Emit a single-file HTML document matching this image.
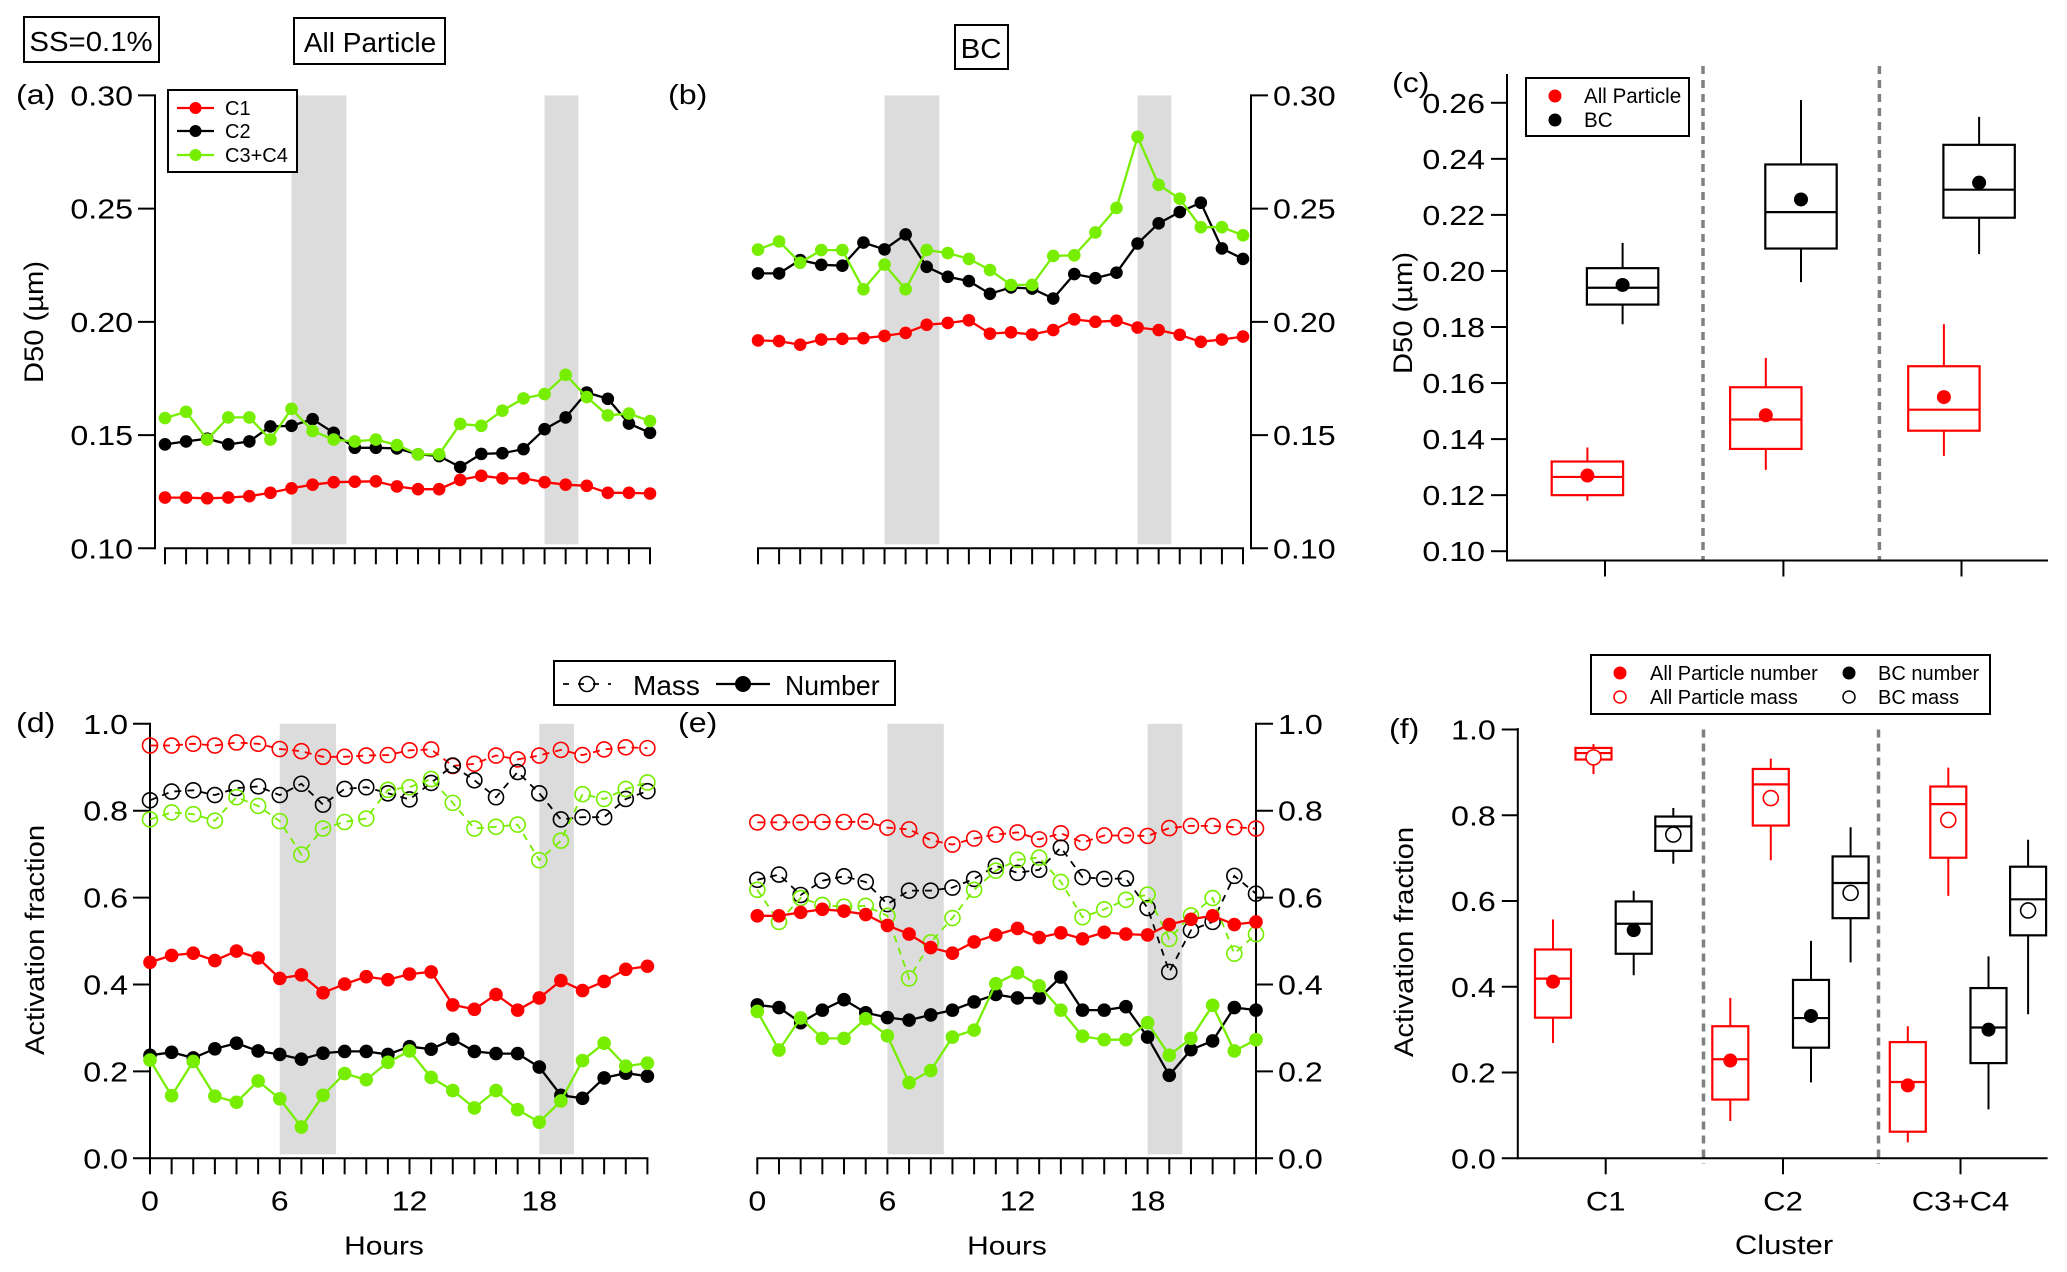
<!DOCTYPE html>
<html><head><meta charset="utf-8"><style>
html,body{margin:0;padding:0;background:#fff;}
svg{display:block;font-family:"Liberation Sans",Arial,sans-serif;}
</style></head><body>
<svg id="fig" width="2067" height="1272" viewBox="0 0 2067 1272" xmlns="http://www.w3.org/2000/svg">
<rect x="0" y="0" width="2067" height="1272" fill="#fff"/>
<g id="gT"></g>
<g id="gA"></g>
<g id="gB"></g>
<g id="gC"></g>
<g id="gD"></g>
<g id="gE"></g>
<g id="gF"></g>
</svg>
<script>
const hours = [0,1,2,3,4,5,6,7,8,9,10,11,12,13,14,15,16,17,18,19,20,21,22,23];
const d50TickLabels = ["0.10","0.15","0.20","0.25","0.30"];
const d50TickValues = [0.10,0.15,0.20,0.25,0.30];
const afTickLabels = ["0.0","0.2","0.4","0.6","0.8","1.0"];
const afTickValues = [0,0.2,0.4,0.6,0.8,1.0];
const hourLabels = [0,6,12,18];
const bands = [[6,8.6],[18,19.6]];
// Panel a (All particle D50)
const aC1 = [0.1224,0.1224,0.1221,0.1224,0.1230,0.1245,0.1265,0.1281,0.1292,0.1294,0.1296,0.1273,0.1261,0.1261,0.1302,0.1320,0.1309,0.1309,0.1292,0.1281,0.1276,0.1245,0.1245,0.1242];
const aC2 = [0.1459,0.1472,0.1484,0.1459,0.1472,0.1538,0.1541,0.1570,0.1510,0.1444,0.1444,0.1441,0.1415,0.1407,0.1359,0.1417,0.1420,0.1438,0.1526,0.1578,0.1688,0.1660,0.1551,0.1510];
const aC34 = [0.1575,0.1603,0.1480,0.1578,0.1578,0.1480,0.1616,0.1518,0.1480,0.1472,0.1480,0.1456,0.1415,0.1415,0.1549,0.1541,0.1608,0.1662,0.1681,0.1766,0.1668,0.1587,0.1595,0.1562];
// Panel b (BC D50)
const bC1 = [0.1918,0.1915,0.1899,0.1922,0.1925,0.1928,0.1938,0.1951,0.1987,0.1995,0.2007,0.1948,0.1954,0.1944,0.1964,0.2011,0.2000,0.2005,0.1975,0.1964,0.1943,0.1912,0.1922,0.1935];
const bC2 = [0.2214,0.2214,0.2273,0.2252,0.2248,0.2350,0.2320,0.2386,0.2243,0.2199,0.2180,0.2124,0.2152,0.2147,0.2103,0.2211,0.2193,0.2217,0.2346,0.2435,0.2485,0.2526,0.2324,0.2278];
const bC34 = [0.2319,0.2355,0.2261,0.2317,0.2317,0.2144,0.2253,0.2144,0.2317,0.2304,0.2278,0.2229,0.2163,0.2163,0.2291,0.2294,0.2395,0.2503,0.2817,0.2605,0.2544,0.2418,0.2418,0.2382];
// Panel d (All particle activation fraction)
const dC1Mass = [0.950,0.950,0.954,0.950,0.957,0.954,0.942,0.937,0.924,0.924,0.927,0.928,0.939,0.941,0.903,0.908,0.927,0.918,0.927,0.940,0.928,0.941,0.946,0.944];
const dC2Mass = [0.824,0.844,0.847,0.836,0.852,0.856,0.836,0.862,0.814,0.850,0.854,0.840,0.826,0.864,0.904,0.870,0.831,0.889,0.840,0.780,0.785,0.785,0.827,0.845];
const dC34Mass = [0.780,0.796,0.792,0.777,0.831,0.811,0.776,0.699,0.759,0.774,0.782,0.848,0.854,0.873,0.818,0.759,0.763,0.768,0.686,0.731,0.838,0.827,0.850,0.865];
const dC1Num = [0.451,0.467,0.472,0.455,0.477,0.461,0.414,0.422,0.381,0.401,0.418,0.411,0.424,0.429,0.353,0.343,0.377,0.341,0.369,0.409,0.386,0.407,0.435,0.442];
const dC2Num = [0.237,0.244,0.231,0.252,0.265,0.247,0.239,0.228,0.242,0.246,0.246,0.239,0.257,0.251,0.274,0.246,0.241,0.241,0.210,0.145,0.138,0.185,0.196,0.189];
const dC34Num = [0.226,0.144,0.223,0.143,0.129,0.178,0.137,0.072,0.145,0.195,0.181,0.221,0.247,0.186,0.156,0.116,0.156,0.112,0.083,0.132,0.225,0.265,0.212,0.219];
// Panel e (BC activation fraction)
const eC1Mass = [0.773,0.773,0.773,0.774,0.774,0.775,0.761,0.757,0.732,0.722,0.736,0.745,0.750,0.734,0.748,0.727,0.743,0.743,0.742,0.760,0.765,0.765,0.762,0.759];
const eC2Mass = [0.641,0.653,0.606,0.639,0.649,0.636,0.585,0.616,0.616,0.623,0.643,0.673,0.657,0.664,0.715,0.647,0.643,0.644,0.576,0.429,0.525,0.544,0.650,0.609];
const eC34Mass = [0.618,0.544,0.599,0.583,0.579,0.581,0.558,0.414,0.497,0.553,0.618,0.662,0.687,0.692,0.636,0.555,0.573,0.595,0.607,0.505,0.559,0.599,0.471,0.516];
const eC1Num = [0.558,0.558,0.566,0.573,0.569,0.561,0.536,0.516,0.485,0.472,0.498,0.514,0.529,0.508,0.519,0.505,0.520,0.516,0.514,0.538,0.550,0.558,0.538,0.544];
const eC2Num = [0.353,0.347,0.312,0.341,0.365,0.335,0.324,0.318,0.330,0.341,0.360,0.377,0.369,0.369,0.417,0.341,0.341,0.349,0.279,0.191,0.250,0.270,0.347,0.341];
const eC34Num = [0.338,0.249,0.323,0.276,0.276,0.321,0.282,0.174,0.202,0.279,0.295,0.402,0.427,0.397,0.341,0.281,0.273,0.273,0.312,0.237,0.276,0.352,0.247,0.273];
// Panel c boxes: [whiskerLow, q1, median, q3, whiskerHigh, mean]
const clusters = ["C1","C2","C3+C4"];
const cAll = [[0.118,0.120,0.1265,0.132,0.137,0.127],[0.129,0.1365,0.147,0.1585,0.169,0.1485],[0.134,0.143,0.1505,0.166,0.181,0.155]];
const cBC = [[0.181,0.188,0.194,0.201,0.210,0.195],[0.196,0.208,0.221,0.238,0.261,0.2255],[0.206,0.219,0.229,0.245,0.255,0.2315]];
const cTickLabels = ["0.10","0.12","0.14","0.16","0.18","0.20","0.22","0.24","0.26"];
const cTickValues = [0.10,0.12,0.14,0.16,0.18,0.20,0.22,0.24,0.26];
// Panel f boxes
const fAllNum = [[0.269,0.328,0.419,0.487,0.557,0.412],[0.087,0.137,0.231,0.308,0.374,0.228],[0.037,0.062,0.178,0.271,0.308,0.170]];
const fAllMass = [[0.896,0.930,0.945,0.957,0.966,0.935],[0.695,0.776,0.872,0.908,0.932,0.840],[0.612,0.701,0.826,0.867,0.911,0.789]];
const fBCNum = [[0.427,0.477,0.547,0.599,0.624,0.532],[0.177,0.258,0.327,0.416,0.507,0.332],[0.114,0.222,0.305,0.397,0.471,0.300]];
const fBCMass = [[0.687,0.717,0.774,0.797,0.817,0.755],[0.457,0.560,0.642,0.704,0.772,0.619],[0.336,0.520,0.604,0.680,0.743,0.578]];

const NS = "http://www.w3.org/2000/svg";
const RED = "#ff0000", BLK = "#000000", GRN = "#77ee00", SHADE = "#dcdcdc";
function mk(parent, tag, attrs, name, txt){
  const el = document.createElementNS(NS, tag);
  for (const k in attrs) el.setAttribute(k, attrs[k]);
  
  
  if (txt !== undefined) el.textContent = txt;
  parent.appendChild(el);
  return el;
}
function T(parent, x, y, s, size, name, anchor, rot, sx){
  const k = sx || 1.15;
  const a = {x: 0, y: 0, 'font-size': size, 'text-anchor': anchor || 'start'};
  a.transform = rot ? 'translate(' + x + ' ' + y + ') rotate(-90) scale(1.08 1)' : 'translate(' + x + ' ' + y + ') scale(' + k + ' 1)';
  return mk(parent, 'text', a, name, s);
}
function linScale(d0, d1, r0, r1){ return v => r0 + (v - d0) / (d1 - d0) * (r1 - r0); }

function linePanel(g, cfg){
  const X = linScale(0, 23, cfg.x0, cfg.x1);
  const Y = linScale(cfg.vmin, cfg.vmax, cfg.yb, cfg.yt);
  bands.forEach((b, i) => {
    mk(g, 'rect', {x: X(b[0]), y: cfg.yt, width: X(b[1]) - X(b[0]), height: cfg.yb - 4 - cfg.yt, fill: SHADE}, 'shade-band-' + i);
  });
  mk(g, 'line', {x1: X(0) - 1, y1: cfg.yb, x2: X(23) + 1, y2: cfg.yb, stroke: '#000', 'stroke-width': 2}, 'x-axis');
  hours.forEach(h => {
    mk(g, 'line', {x1: X(h), y1: cfg.yb, x2: X(h), y2: cfg.yb + 16, stroke: '#000', 'stroke-width': 2}, 'x-tick');
  });
  if (cfg.hourLabels) {
    hourLabels.forEach(h => T(g, X(h), cfg.yb + 52, String(h), 28, 'x-tick-label', 'middle'));
    T(g, cfg.hoursX, cfg.yb + 96, 'Hours', 26, 'x-axis-title', 'middle');
  }
  const ax = cfg.axisX, dir = cfg.right ? 1 : -1;
  mk(g, 'line', {x1: ax, y1: cfg.yt - 1, x2: ax, y2: cfg.yb + 1, stroke: '#000', 'stroke-width': 2}, 'y-axis');
  cfg.tickValues.forEach((v, i) => {
    mk(g, 'line', {x1: ax, y1: Y(v), x2: ax + dir * 17, y2: Y(v), stroke: '#000', 'stroke-width': 2}, 'y-tick');
    T(g, ax + dir * 22, Y(v) + 10, cfg.tickLabels[i], 28, 'y-tick-label', cfg.right ? 'start' : 'end');
  });
  cfg.series.forEach(s => {
    const pts = s.data.map((v, i) => X(hours[i]).toFixed(1) + ',' + Y(v).toFixed(1)).join(' ');
    const la = {points: pts, fill: 'none', stroke: s.color, 'stroke-width': s.open ? 1.8 : 2.3};
    if (s.open) la['stroke-dasharray'] = '7,6';
    mk(g, 'polyline', la, s.name + '-line');
    s.data.forEach((v, i) => {
      if (s.open) mk(g, 'circle', {cx: X(hours[i]), cy: Y(v), r: 7.5, fill: 'none', stroke: s.color, 'stroke-width': 1.6}, s.name + '-point');
      else mk(g, 'circle', {cx: X(hours[i]), cy: Y(v), r: cfg.r, fill: s.color}, s.name + '-point');
    });
  });
}

function boxPanel(g, cfg){
  const Y = linScale(cfg.vmin, cfg.vmax, cfg.yb0, cfg.yt0);
  cfg.seps.forEach(sx => mk(g, 'line', {x1: sx, y1: cfg.sepTop, x2: sx, y2: cfg.sepBot, stroke: '#808080', 'stroke-width': 3.5, 'stroke-dasharray': '8,6'}, 'cluster-separator'));
  mk(g, 'line', {x1: cfg.axisX, y1: cfg.axTop, x2: cfg.axisX, y2: cfg.xAxisY + 1, stroke: '#000', 'stroke-width': 2}, 'y-axis');
  mk(g, 'line', {x1: cfg.axisX - 1, y1: cfg.xAxisY, x2: cfg.xEnd, y2: cfg.xAxisY, stroke: '#000', 'stroke-width': 2}, 'x-axis');
  cfg.tickValues.forEach((v, i) => {
    mk(g, 'line', {x1: cfg.axisX, y1: Y(v), x2: cfg.axisX - 16, y2: Y(v), stroke: '#000', 'stroke-width': 2}, 'y-tick');
    T(g, cfg.axisX - 22, Y(v) + 10, cfg.tickLabels[i], 28, 'y-tick-label', 'end');
  });
  cfg.cats.forEach((cx, ci) => {
    mk(g, 'line', {x1: cx, y1: cfg.xAxisY, x2: cx, y2: cfg.xAxisY + 16, stroke: '#000', 'stroke-width': 2}, 'x-tick');
    if (cfg.catLabels) T(g, cx, cfg.xAxisY + 52, clusters[ci], 27, 'x-tick-label', 'middle');
    cfg.series.forEach(s => {
      const b = s.data[ci], bx = cx + s.off, hw = cfg.hw;
      mk(g, 'line', {x1: bx, y1: Y(b[0]), x2: bx, y2: Y(b[4]), stroke: s.color, 'stroke-width': 2}, s.name + '-whisker');
      mk(g, 'rect', {x: bx - hw, y: Y(b[3]), width: 2 * hw, height: Y(b[1]) - Y(b[3]), fill: '#fff', stroke: s.color, 'stroke-width': 2.2}, s.name + '-box');
      mk(g, 'line', {x1: bx - hw, y1: Y(b[2]), x2: bx + hw, y2: Y(b[2]), stroke: s.color, 'stroke-width': 2.2}, s.name + '-median');
      if (s.open) mk(g, 'circle', {cx: bx, cy: Y(b[5]), r: 7.5, fill: '#fff', stroke: s.color, 'stroke-width': 1.6}, s.name + '-mean');
      else mk(g, 'circle', {cx: bx, cy: Y(b[5]), r: 7, fill: s.color}, s.name + '-mean');
    });
  });
}

// titles
const gT = document.getElementById('gT');
mk(gT, 'rect', {x: 24, y: 17, width: 135, height: 45, fill: 'none', stroke: '#000', 'stroke-width': 2}, 'ss-label-box');
T(gT, 91, 51, 'SS=0.1%', 28, 'ss-label', 'middle', false, 1.05);
mk(gT, 'rect', {x: 294, y: 18, width: 151, height: 46, fill: 'none', stroke: '#000', 'stroke-width': 2}, 'all-particle-title-box');
T(gT, 370, 52, 'All Particle', 28, 'all-particle-title', 'middle', false, 1.0);
mk(gT, 'rect', {x: 955, y: 25, width: 53, height: 44, fill: 'none', stroke: '#000', 'stroke-width': 2}, 'bc-title-box');
T(gT, 981, 58, 'BC', 28, 'bc-title', 'middle', false, 1.05);

const gA = document.getElementById('gA');
linePanel(gA, {x0: 165, x1: 650, yt: 95.4, yb: 548.3, vmin: 0.10, vmax: 0.30, axisX: 155, right: false, r: 6.3,
  tickValues: d50TickValues, tickLabels: d50TickLabels,
  series: [{data: aC1, color: RED, name: 'c1'}, {data: aC2, color: BLK, name: 'c2'}, {data: aC34, color: GRN, name: 'c3c4'}]});
T(gA, 16, 104, '(a)', 28, 'panel-label-a');
T(gA, 43, 322, 'D50 (µm)', 27, 'y-axis-title', 'middle', true);
const lgA = mk(gA, 'g', {}, 'legend');
mk(lgA, 'rect', {x: 168, y: 90, width: 129, height: 82, fill: '#fff', stroke: '#000', 'stroke-width': 2}, 'legend-box');
[[RED, 'C1', 108], [BLK, 'C2', 131], [GRN, 'C3+C4', 155]].forEach(e => {
  mk(lgA, 'line', {x1: 177, y1: e[2], x2: 214, y2: e[2], stroke: e[0], 'stroke-width': 2.3}, 'legend-line');
  mk(lgA, 'circle', {cx: 195.5, cy: e[2], r: 6, fill: e[0]}, 'legend-marker');
  T(lgA, 225, e[2] + 7, e[1], 20, 'legend-entry', 'start', false, 1.0);
});

const gB = document.getElementById('gB');
linePanel(gB, {x0: 758, x1: 1243, yt: 95.4, yb: 548.3, vmin: 0.10, vmax: 0.30, axisX: 1251, right: true, r: 6.3,
  tickValues: d50TickValues, tickLabels: d50TickLabels,
  series: [{data: bC1, color: RED, name: 'c1'}, {data: bC2, color: BLK, name: 'c2'}, {data: bC34, color: GRN, name: 'c3c4'}]});
T(gB, 668, 104, '(b)', 28, 'panel-label-b');

const gC = document.getElementById('gC');
boxPanel(gC, {vmin: 0.10, vmax: 0.26, yb0: 551.2, yt0: 102.8, axisX: 1507, axTop: 74, xAxisY: 560.5, xEnd: 2048,
  seps: [1703, 1879.4], sepTop: 66, sepBot: 560, cats: [1605, 1783.4, 1961.5], hw: 35.7, catLabels: false,
  tickValues: cTickValues, tickLabels: cTickLabels,
  series: [{data: cAll, color: RED, off: -17.6, name: 'all-particle'}, {data: cBC, color: BLK, off: 17.6, name: 'bc'}]});
T(gC, 1392, 92, '(c)', 28, 'panel-label-c');
T(gC, 1412, 313, 'D50 (µm)', 27, 'y-axis-title', 'middle', true);
const lgC = mk(gC, 'g', {}, 'legend');
mk(lgC, 'rect', {x: 1526, y: 78, width: 163, height: 58, fill: '#fff', stroke: '#000', 'stroke-width': 2}, 'legend-box');
mk(lgC, 'circle', {cx: 1555, cy: 96, r: 6.5, fill: RED}, 'legend-marker');
T(lgC, 1584, 103, 'All Particle', 21, 'legend-entry', 'start', false, 0.98);
mk(lgC, 'circle', {cx: 1555, cy: 120, r: 6.5, fill: BLK}, 'legend-marker');
T(lgC, 1584, 127, 'BC', 21, 'legend-entry', 'start', false, 0.98);

const gD = document.getElementById('gD');
linePanel(gD, {x0: 150, x1: 647.4, yt: 723.8, yb: 1158.3, vmin: 0, vmax: 1, axisX: 150, right: false, r: 6.8, hourLabels: true, hoursX: 384,
  tickValues: afTickValues, tickLabels: afTickLabels,
  series: [{data: dC1Mass, color: RED, open: true, name: 'c1-mass'}, {data: dC2Mass, color: BLK, open: true, name: 'c2-mass'}, {data: dC34Mass, color: GRN, open: true, name: 'c3c4-mass'},
           {data: dC1Num, color: RED, name: 'c1-number'}, {data: dC2Num, color: BLK, name: 'c2-number'}, {data: dC34Num, color: GRN, name: 'c3c4-number'}]});
T(gD, 16, 732, '(d)', 28, 'panel-label-d');
T(gD, 44, 940, 'Activation fraction', 27, 'y-axis-title', 'middle', true);

const gE = document.getElementById('gE');
linePanel(gE, {x0: 757.3, x1: 1256, yt: 723.8, yb: 1158.3, vmin: 0, vmax: 1, axisX: 1256, right: true, r: 6.8, hourLabels: true, hoursX: 1007,
  tickValues: afTickValues, tickLabels: afTickLabels,
  series: [{data: eC1Mass, color: RED, open: true, name: 'c1-mass'}, {data: eC2Mass, color: BLK, open: true, name: 'c2-mass'}, {data: eC34Mass, color: GRN, open: true, name: 'c3c4-mass'},
           {data: eC1Num, color: RED, name: 'c1-number'}, {data: eC2Num, color: BLK, name: 'c2-number'}, {data: eC34Num, color: GRN, name: 'c3c4-number'}]});
T(gE, 678, 732, '(e)', 28, 'panel-label-e');
const lgM = mk(gE, 'g', {}, 'mass-number-legend');
mk(lgM, 'rect', {x: 554, y: 661, width: 341, height: 44, fill: '#fff', stroke: '#000', 'stroke-width': 2}, 'legend-box');
mk(lgM, 'line', {x1: 563, y1: 684, x2: 611, y2: 684, stroke: '#000', 'stroke-width': 1.8, 'stroke-dasharray': '6,9'}, 'legend-line');
mk(lgM, 'circle', {cx: 587, cy: 684, r: 7.5, fill: 'none', stroke: '#000', 'stroke-width': 1.6}, 'legend-marker');
T(lgM, 633, 695, 'Mass', 28, 'legend-entry', 'start', false, 1.0);
mk(lgM, 'line', {x1: 716, y1: 684, x2: 770, y2: 684, stroke: '#000', 'stroke-width': 2.3}, 'legend-line');
mk(lgM, 'circle', {cx: 743, cy: 684, r: 8, fill: '#000'}, 'legend-marker');
T(lgM, 785, 695, 'Number', 28, 'legend-entry', 'start', false, 0.95);

const gF = document.getElementById('gF');
boxPanel(gF, {vmin: 0, vmax: 1, yb0: 1158.3, yt0: 729.5, axisX: 1517.8, axTop: 728, xAxisY: 1158.3, xEnd: 2047.6,
  seps: [1703.5, 1878.5], sepTop: 729.5, sepBot: 1164, cats: [1605.7, 1783, 1960.5], hw: 18, catLabels: true,
  tickValues: afTickValues, tickLabels: afTickLabels,
  series: [{data: fAllNum, color: RED, off: -52.7, name: 'all-particle-number'}, {data: fAllMass, color: RED, off: -12.2, open: true, name: 'all-particle-mass'},
           {data: fBCNum, color: BLK, off: 28, name: 'bc-number'}, {data: fBCMass, color: BLK, off: 67.6, open: true, name: 'bc-mass'}]});
T(gF, 1389, 738, '(f)', 28, 'panel-label-f');
T(gF, 1413, 942, 'Activation fraction', 27, 'y-axis-title', 'middle', true);
T(gF, 1784, 1254, 'Cluster', 27, 'x-axis-title', 'middle');
const lgF = mk(gF, 'g', {}, 'legend');
mk(lgF, 'rect', {x: 1591, y: 655, width: 399, height: 59, fill: '#fff', stroke: '#000', 'stroke-width': 2}, 'legend-box');
mk(lgF, 'circle', {cx: 1620, cy: 673, r: 6.5, fill: RED}, 'legend-marker');
T(lgF, 1650, 680, 'All Particle number', 20, 'legend-entry', 'start', false, 1.0);
mk(lgF, 'circle', {cx: 1620, cy: 697, r: 6, fill: 'none', stroke: RED, 'stroke-width': 1.5}, 'legend-marker');
T(lgF, 1650, 704, 'All Particle mass', 20, 'legend-entry', 'start', false, 1.0);
mk(lgF, 'circle', {cx: 1849, cy: 673, r: 6.5, fill: BLK}, 'legend-marker');
T(lgF, 1878, 680, 'BC number', 20, 'legend-entry', 'start', false, 1.0);
mk(lgF, 'circle', {cx: 1849, cy: 697, r: 6, fill: 'none', stroke: BLK, 'stroke-width': 1.5}, 'legend-marker');
T(lgF, 1878, 704, 'BC mass', 20, 'legend-entry', 'start', false, 1.0);
</script>
</body></html>
